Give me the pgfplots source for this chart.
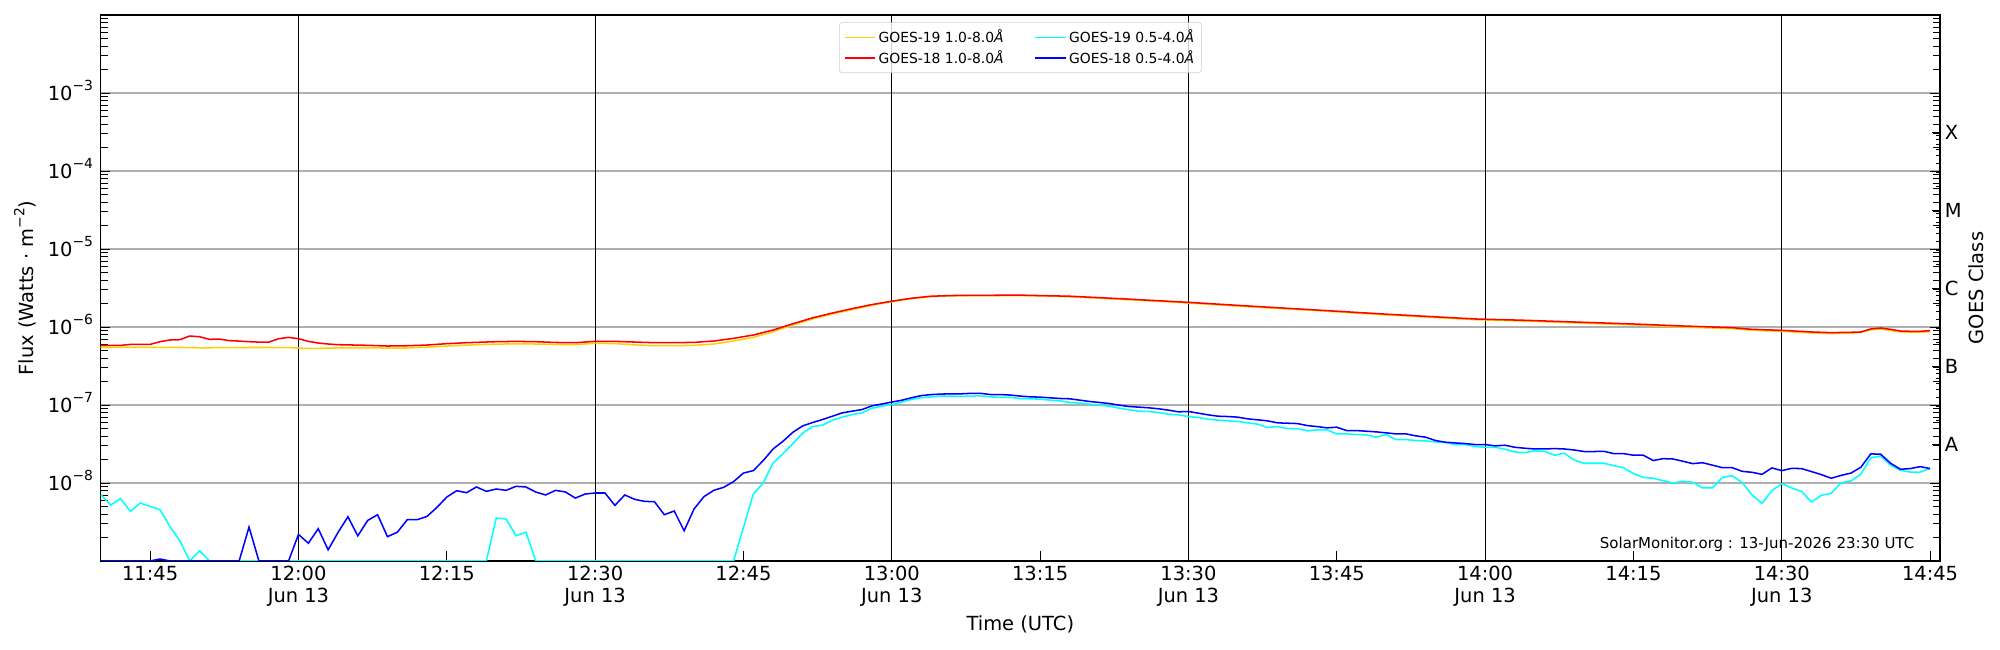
\documentclass[border=0pt]{standalone}
\usepackage{fontspec}
\setmainfont{DejaVu Sans}
\usepackage{pgfplots}
\pgfplotsset{compat=1.18}
\definecolor{goldc}{HTML}{FFD000}
\definecolor{cyanc}{HTML}{00FFFF}
\definecolor{bluec}{HTML}{0000FF}
\definecolor{redc}{HTML}{FF0000}
\definecolor{gridgray}{HTML}{B0B0B0}
\newcommand{\ex}[1]{\smash{\raisebox{6.7pt}{\fontsize{10}{10}\selectfont −#1}}}
\newcommand{\fs}{\fontsize{14}{16}\selectfont}
\begin{document}
\begin{tikzpicture}
\path[use as bounding box] (0pt,0pt) rectangle (1440pt,468pt);
\begin{axis}[
  at={(72.5pt,64.1pt)}, anchor=south west,
  scale only axis, width=1324.3pt, height=393.1pt,
  xmin=0, xmax=186,
  ymode=log, ymin=1e-9, ymax=1e-2,
  axis line style={line width=0.8pt},
  tick align=inside,
  xtick pos=bottom, ytick pos=both, yticklabel pos=left,
  major tick length=7pt, minor tick length=5pt,
  tick style={black, line width=0.6pt},
  xtick={5,20,...,185},
  xticklabels={11:45,{12:00\\Jun 13},12:15,{12:30\\Jun 13},12:45,{13:00\\Jun 13},13:15,{13:30\\Jun 13},13:45,{14:00\\Jun 13},14:15,{14:30\\Jun 13},14:45},
  xticklabel style={align=center, font=\fs},
  ytick={1e-9,1e-8,1e-7,1e-6,1e-5,1e-4,1e-3,1e-2},
  yticklabels={,10\ex{8},10\ex{7},10\ex{6},10\ex{5},10\ex{4},10\ex{3},},
  yticklabel style={font=\fs, inner xsep=5.3pt},
  minor ytick={2e-9,3e-9,4e-9,5e-9,6e-9,7e-9,8e-9,9e-9,
    2e-8,3e-8,4e-8,5e-8,6e-8,7e-8,8e-8,9e-8,
    2e-7,3e-7,4e-7,5e-7,6e-7,7e-7,8e-7,9e-7,
    2e-6,3e-6,4e-6,5e-6,6e-6,7e-6,8e-6,9e-6,
    2e-5,3e-5,4e-5,5e-5,6e-5,7e-5,8e-5,9e-5,
    2e-4,3e-4,4e-4,5e-4,6e-4,7e-4,8e-4,9e-4,
    2e-3,3e-3,4e-3,5e-3,6e-3,7e-3,8e-3,9e-3},
  ymajorgrids=true,
  y grid style={gridgray, line width=0.8pt},
  extra x ticks={20,50,80,110,140,170},
  extra x tick labels={},
  extra x tick style={grid=major, major grid style={black, line width=0.8pt}},
  xlabel={Time (UTC)},
  ylabel={Flux (Watts · m\raisebox{6.3pt}{\fontsize{10}{10}\selectfont −2})},
  every axis x label/.style={at={(rel axis cs:0.5,0)}, yshift=-45.7pt, anchor=center, font=\fs},
  every axis y label/.style={at={(rel axis cs:0,0.5)}, xshift=-54.5pt, rotate=90, anchor=center, font=\fs},
  legend columns=2,
  legend cell align=left,
  legend image code/.code={\draw[#1] (0pt,0pt) -- (22pt,0pt);},
  legend style={at={(rel axis cs:0.5,1)}, anchor=north, yshift=-5.3pt,
    draw=black!20, rounded corners=2pt, fill=white, fill opacity=0.8, draw opacity=1, text opacity=1,
    font=\fontsize{10}{12}\selectfont, inner sep=3.2pt,
    /tikz/every even column/.append style={column sep=20pt}},
]
\addplot[color=goldc, line width=1.1pt] coordinates {
(0,5.50e-7)(4,5.48e-7)(8,5.47e-7)(10,5.40e-7)(13,5.45e-7)(16,5.46e-7)(19,5.45e-7)(20,5.36e-7)(21,5.30e-7)(23,5.36e-7)(25,5.42e-7)(27,5.42e-7)(29,5.36e-7)(31,5.38e-7)(33,5.50e-7)(35,5.70e-7)(37,5.85e-7)(39,5.98e-7)(42,6.10e-7)(44,6.05e-7)(46,5.95e-7)(48,5.95e-7)(50,6.17e-7)(52,6.12e-7)(54,5.90e-7)(56,5.75e-7)(58,5.75e-7)(60,5.82e-7)(62,6.05e-7)(64,6.61e-7)(66,7.36e-7)(68,8.71e-7)(70,1.06e-6)(72,1.27e-6)(74,1.47e-6)(76,1.67e-6)(78,1.90e-6)(80,2.11e-6)(82,2.31e-6)(84,2.45e-6)(86,2.50e-6)(88,2.52e-6)(90,2.52e-6)(93,2.53e-6)(98,2.44e-6)(103,2.27e-6)(110,2.03e-6)(116,1.82e-6)(123,1.62e-6)(130,1.43e-6)(139,1.24e-6)(144,1.19e-6)(149,1.13e-6)(155,1.065e-6)(160,1.00e-6)(165,9.5e-7)(167,9.1e-7)(170,8.8e-7)(173,8.4e-7)(175,8.25e-7)(177,8.3e-7)(178,8.6e-7)(179,9.2e-7)(180,9.4e-7)(181,9.0e-7)(182,8.65e-7)(183,8.55e-7)(184,8.55e-7)(185,8.75e-7)
};
\addlegendentry{GOES-19 1.0-8.0\textit{Å}}
\addplot[color=cyanc, line width=1.1pt] coordinates {
(0,7.08e-9)(1,5.21e-9)(2,6.30e-9)(3,4.33e-9)(4,5.53e-9)(5,5.01e-9)(6,4.54e-9)(7,2.77e-9)(8,1.82e-9)(9,1e-9)(10,1.35e-9)(11,1e-9)(39,1e-9)(40,3.55e-9)(41,3.45e-9)(42,2.10e-9)(43,2.34e-9)(44,1e-9)(64,1e-9)(66,7.22e-9)(67,1.0e-8)(68,1.81e-8)(69,2.38e-8)(70,3.20e-8)(71,4.38e-8)(72,5.29e-8)(73,5.51e-8)(74,6.38e-8)(75,6.98e-8)(76,7.55e-8)(77,7.93e-8)(78,9.10e-8)(79,9.66e-8)(80,1.01e-7)(81,1.09e-7)(82,1.18e-7)(83,1.24e-7)(84,1.27e-7)(85,1.30e-7)(86,1.30e-7)(87,1.29e-7)(88,1.30e-7)(89,1.31e-7)(90,1.27e-7)(91,1.25e-7)(92,1.25e-7)(93,1.21e-7)(94,1.20e-7)(95,1.188e-7)(96,1.154e-7)(97,1.131e-7)(98,1.077e-7)(99,1.056e-7)(100,1.025e-7)(101,9.95e-8)(102,9.66e-8)(103,9.11e-8)(104,8.67e-8)(105,8.33e-8)(106,8.25e-8)(107,8.01e-8)(108,7.62e-8)(109,7.47e-8)(110,7.11e-8)(111,6.91e-8)(112,6.58e-8)(113,6.38e-8)(114,6.26e-8)(115,6.14e-8)(116,5.90e-8)(117,5.67e-8)(118,5.14e-8)(119,5.29e-8)(120,4.99e-8)(121,4.99e-8)(122,4.66e-8)(123,4.80e-8)(124,4.80e-8)(125,4.26e-8)(126,4.26e-8)(127,4.18e-8)(128,4.14e-8)(129,3.86e-8)(130,4.18e-8)(131,3.60e-8)(132,3.60e-8)(133,3.50e-8)(134,3.46e-8)(135,3.36e-8)(136,3.30e-8)(137,3.11e-8)(138,3.11e-8)(139,2.93e-8)(140,2.87e-8)(141,2.87e-8)(142,2.71e-8)(143,2.50e-8)(144,2.45e-8)(145,2.58e-8)(146,2.55e-8)(147,2.27e-8)(148,2.41e-8)(149,1.97e-8)(150,1.79e-8)(151,1.79e-8)(152,1.79e-8)(153,1.67e-8)(154,1.57e-8)(155,1.32e-8)(156,1.18e-8)(157,1.15e-8)(158,1.07e-8)(159,1.00e-8)(160,1.05e-8)(161,1.02e-8)(162,8.63e-9)(163,8.63e-9)(164,1.18e-8)(165,1.24e-8)(166,1.01e-8)(167,7.01e-9)(168,5.48e-9)(169,7.97e-9)(170,9.80e-9)(171,8.63e-9)(172,7.81e-9)(173,5.70e-9)(174,6.94e-9)(175,7.36e-9)(176,1.01e-8)(177,1.06e-8)(178,1.30e-8)(179,2.10e-8)(180,2.22e-8)(181,1.69e-8)(182,1.45e-8)(183,1.38e-8)(184,1.38e-8)(185,1.53e-8)
};
\addlegendentry{GOES-19 0.5-4.0\textit{Å}}
\addplot[color=redc, line width=1.1pt] coordinates {
(0,5.80e-7)(2,5.80e-7)(3,5.98e-7)(5,5.98e-7)(6,6.48e-7)(7,6.81e-7)(8,6.87e-7)(9,7.66e-7)(10,7.50e-7)(11,6.95e-7)(12,7.00e-7)(13,6.68e-7)(14,6.60e-7)(15,6.48e-7)(16,6.40e-7)(17,6.40e-7)(18,7.08e-7)(19,7.36e-7)(20,7.08e-7)(21,6.54e-7)(22,6.23e-7)(23,6.05e-7)(24,5.93e-7)(27,5.82e-7)(29,5.70e-7)(31,5.75e-7)(33,5.87e-7)(35,6.11e-7)(37,6.29e-7)(40,6.48e-7)(42,6.54e-7)(44,6.48e-7)(46,6.33e-7)(48,6.29e-7)(50,6.54e-7)(52,6.54e-7)(54,6.41e-7)(56,6.29e-7)(58,6.29e-7)(60,6.35e-7)(62,6.61e-7)(64,7.15e-7)(66,7.89e-7)(68,9.14e-7)(70,1.10e-6)(72,1.31e-6)(74,1.51e-6)(76,1.72e-6)(78,1.94e-6)(80,2.14e-6)(82,2.34e-6)(84,2.48e-6)(86,2.53e-6)(88,2.55e-6)(90,2.55e-6)(93,2.56e-6)(98,2.48e-6)(103,2.31e-6)(110,2.07e-6)(116,1.86e-6)(123,1.65e-6)(130,1.46e-6)(139,1.267e-6)(144,1.219e-6)(149,1.159e-6)(155,1.093e-6)(160,1.030e-6)(165,9.80e-7)(167,9.33e-7)(170,9.06e-7)(173,8.63e-7)(175,8.46e-7)(177,8.55e-7)(178,8.63e-7)(179,9.43e-7)(180,9.71e-7)(181,9.33e-7)(182,8.88e-7)(183,8.80e-7)(184,8.80e-7)(185,8.97e-7)
};
\addlegendentry{GOES-18 1.0-8.0\textit{Å}}
\addplot[color=bluec, line width=1.1pt] coordinates {
(0,1e-9)(1,1e-9)(2,1e-9)(3,1e-9)(4,1e-9)(5,1e-9)(6,1.06e-9)(7,1e-9)(14,1e-9)(15,2.72e-9)(16,1e-9)(19,1e-9)(20,2.19e-9)(21,1.69e-9)(22,2.59e-9)(23,1.39e-9)(24,2.32e-9)(25,3.69e-9)(26,2.10e-9)(27,3.31e-9)(28,3.92e-9)(29,2.05e-9)(30,2.34e-9)(31,3.38e-9)(32,3.38e-9)(33,3.73e-9)(34,4.86e-9)(35,6.60e-9)(36,7.96e-9)(37,7.51e-9)(38,8.89e-9)(39,7.81e-9)(40,8.37e-9)(41,8.05e-9)(42,9.06e-9)(43,8.89e-9)(44,7.66e-9)(45,7.02e-9)(46,8.05e-9)(47,7.66e-9)(48,6.41e-9)(49,7.22e-9)(50,7.44e-9)(51,7.44e-9)(52,5.16e-9)(53,7.02e-9)(54,6.17e-9)(55,5.81e-9)(56,5.75e-9)(57,3.92e-9)(58,4.37e-9)(59,2.44e-9)(60,4.63e-9)(61,6.67e-9)(62,8.05e-9)(63,8.80e-9)(64,1.04e-8)(65,1.34e-8)(66,1.44e-8)(67,1.94e-8)(68,2.73e-8)(69,3.43e-8)(70,4.47e-8)(71,5.40e-8)(72,5.96e-8)(73,6.51e-8)(74,7.19e-8)(75,7.93e-8)(76,8.33e-8)(77,8.75e-8)(78,9.75e-8)(79,1.03e-7)(80,1.09e-7)(81,1.15e-7)(82,1.24e-7)(83,1.32e-7)(84,1.36e-7)(85,1.38e-7)(86,1.39e-7)(87,1.39e-7)(88,1.41e-7)(89,1.41e-7)(90,1.36e-7)(91,1.36e-7)(92,1.34e-7)(93,1.30e-7)(94,1.273e-7)(95,1.26e-7)(96,1.236e-7)(97,1.212e-7)(98,1.20e-7)(99,1.154e-7)(100,1.109e-7)(101,1.077e-7)(102,1.045e-7)(103,9.95e-8)(104,9.56e-8)(105,9.38e-8)(106,9.20e-8)(107,8.93e-8)(108,8.58e-8)(109,8.17e-8)(110,8.25e-8)(111,7.85e-8)(112,7.47e-8)(113,7.18e-8)(114,7.11e-8)(115,6.98e-8)(116,6.64e-8)(117,6.45e-8)(118,6.26e-8)(119,5.90e-8)(120,5.84e-8)(121,5.78e-8)(122,5.45e-8)(123,5.29e-8)(124,5.09e-8)(125,5.19e-8)(126,4.70e-8)(127,4.70e-8)(128,4.61e-8)(129,4.52e-8)(130,4.39e-8)(131,4.26e-8)(132,4.26e-8)(133,4.02e-8)(134,3.86e-8)(135,3.50e-8)(136,3.33e-8)(137,3.26e-8)(138,3.20e-8)(139,3.11e-8)(140,3.11e-8)(141,2.99e-8)(142,3.05e-8)(143,2.87e-8)(144,2.79e-8)(145,2.73e-8)(146,2.73e-8)(147,2.76e-8)(148,2.73e-8)(149,2.65e-8)(150,2.53e-8)(151,2.53e-8)(152,2.55e-8)(153,2.38e-8)(154,2.38e-8)(155,2.27e-8)(156,2.27e-8)(157,1.94e-8)(158,2.05e-8)(159,2.03e-8)(160,1.90e-8)(161,1.77e-8)(162,1.82e-8)(163,1.69e-8)(164,1.57e-8)(165,1.57e-8)(166,1.41e-8)(167,1.37e-8)(168,1.29e-8)(169,1.56e-8)(170,1.44e-8)(171,1.54e-8)(172,1.53e-8)(173,1.40e-8)(174,1.28e-8)(175,1.15e-8)(176,1.25e-8)(177,1.34e-8)(178,1.59e-8)(179,2.36e-8)(180,2.34e-8)(181,1.79e-8)(182,1.50e-8)(183,1.53e-8)(184,1.62e-8)(185,1.53e-8)
};
\addlegendentry{GOES-18 0.5-4.0\textit{Å}}
\node[anchor=base east, xshift=-15pt, yshift=9.1pt, font=\fontsize{10.8}{13}\selectfont] at (rel axis cs:1,0) {SolarMonitor.org : 13-Jun-2026 23:30 UTC};
\end{axis}
\begin{axis}[
  at={(72.5pt,64.1pt)}, anchor=south west,
  scale only axis, width=1324.3pt, height=393.1pt,
  xmin=0, xmax=186,
  ymode=log, ymin=1e-9, ymax=1e-2,
  hide x axis, axis y line*=right,
  y axis line style={line width=0.8pt},
  tick align=inside, major tick length=6pt,
  tick style={black, line width=0.6pt},
  ytick={3.162e-8,3.162e-7,3.162e-6,3.162e-5,3.162e-4},
  yticklabels={A,B,C,M,X},
  yticklabel style={font=\fs},
  ylabel={GOES Class},
  every axis y label/.style={at={(rel axis cs:1,0.5)}, xshift=25.9pt, rotate=90, anchor=center, font=\fs},
]
\end{axis}
\end{tikzpicture}
\end{document}
